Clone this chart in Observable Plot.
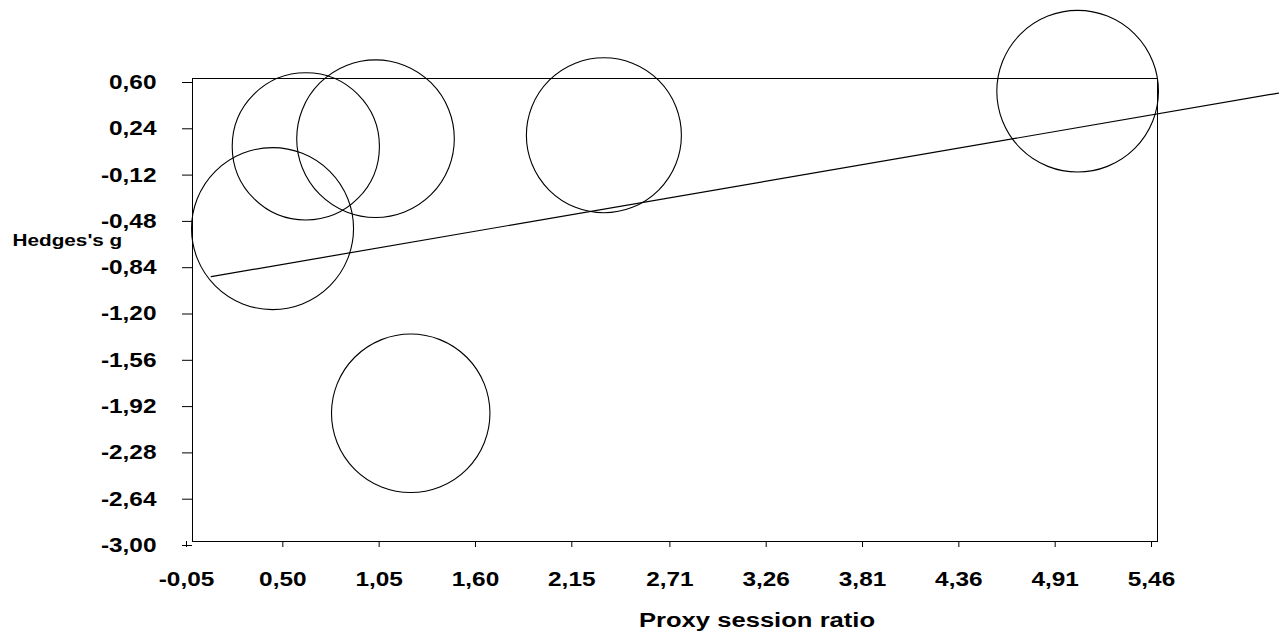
<!DOCTYPE html>
<html>
<head>
<meta charset="utf-8">
<script src="https://cdn.jsdelivr.net/npm/d3@7"></script>
<script src="https://cdn.jsdelivr.net/npm/@observablehq/plot@0.6"></script>
<style>
  html, body { margin: 0; padding: 0; background: #fff; }
  #chart svg { display: block; }
</style>
</head>
<body>
<div id="chart"></div>
<script>
// ---- data ----
const xTickLabels = ["-0,05","0,50","1,05","1,60","2,15","2,71","3,26","3,81","4,36","4,91","5,46"];
const yTickLabels = ["0,60","0,24","-0,12","-0,48","-0,84","-1,20","-1,56","-1,92","-2,28","-2,64","-3,00"];
const studyRatio  = [0.407, 0.597, 0.995, 2.299, 5.004, 1.196];
const studyG      = [-0.567, 0.072, 0.132, 0.159, 0.501, -2.003];
const studyWeight = [17.73, 14.64, 16.78, 16.23, 17.65, 16.96];
const regIntercept = -0.954;
const regSlope = 0.2342;
const regRange = [0.057, 6.151];
const xLabel = "Proxy session ratio";
const yLabel = "Hedges's g";

const parse = s => +s.replace(",", ".");
const xTicks = xTickLabels.map(parse);
const yTicks = yTickLabels.map(parse);
const studies = studyRatio.map((x, i) => ({x, g: studyG[i], w: studyWeight[i]}));
const regLine = regRange.map(x => ({x, g: regIntercept + regSlope * x}));

const font = "'Liberation Sans', Arial, sans-serif";

const chart = Plot.plot({
  width: 1282,
  height: 639,
  marginLeft: 192,
  marginRight: 125,
  marginTop: 78,
  marginBottom: 98,
  style: {fontFamily: font, fontWeight: "bold", color: "#000", background: "#fff", overflow: "visible"},
  x: {domain: [-0.05, 5.46]},
  y: {domain: [-3.00, 0.60]},
  r: {type: "sqrt", domain: [0, 17.73], range: [0, 81]},
  marks: [
    Plot.frame({stroke: "#000", strokeWidth: 1}),
    Plot.axisX({ticks: xTicks, tickFormat: (d, i) => xTickLabels[i], tickSize: 6, tickPadding: 24,
                fontSize: 20, dx: -6, label: null, stroke: "#000"}),
    Plot.axisY({ticks: yTicks, tickFormat: (d, i) => yTickLabels[i], tickSize: 10, tickPadding: 26,
                fontSize: 20, dy: 4, label: null, stroke: "#000"}),
    Plot.dot(studies, {x: "x", y: "g", r: "w", stroke: "#000", fill: "none", strokeWidth: 1.1}),
    Plot.line(regLine, {x: "x", y: "g", stroke: "#000", strokeWidth: 1.2}),
    Plot.text([yLabel], {frameAnchor: "top-left", textAnchor: "start", lineAnchor: "middle",
                         dx: -180, dy: 162, fontSize: 17, fill: "#000"}),
    Plot.text([xLabel], {frameAnchor: "bottom", textAnchor: "middle", lineAnchor: "middle",
                         dx: 82, dy: 79, fontSize: 21, fill: "#000"})
  ]
});

// the reference type is horizontally wide; stretch glyphs about their anchors
chart.querySelectorAll("text").forEach(t => {
  const tr = t.getAttribute("transform") || "";
  t.setAttribute("transform", tr + " scale(1.22,1)");
});

document.getElementById("chart").appendChild(chart);
</script>
</body>
</html>
